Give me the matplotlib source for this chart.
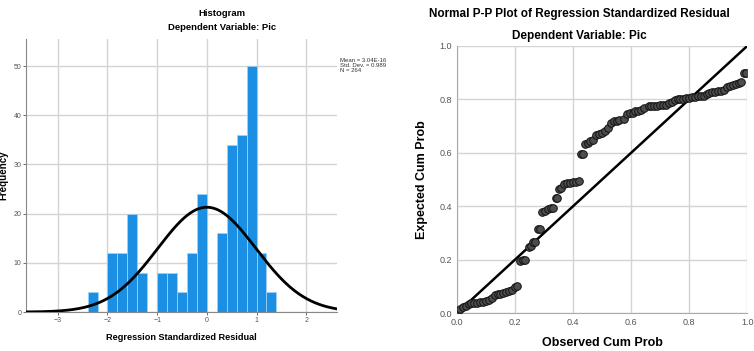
import numpy as np
import matplotlib
matplotlib.use("Agg")
import matplotlib.pyplot as plt

# histogram data (bin edges / counts)
bin_left = [-2.4, -2.0, -1.8, -1.6, -1.4, -1.0, -0.8, -0.6, -0.4, -0.2,
            0.2, 0.4, 0.6, 0.8, 1.0, 1.2]
counts = [4, 12, 12, 20, 8, 8, 8, 4, 12, 24, 16, 34, 36, 50, 12, 4]
bin_width = 0.2
res_mean = 3.04e-16
res_sd = 0.989
n_cases = 264

# P-P plot points (observed, expected)
obs = [0.004, 0.012, 0.02, 0.03, 0.04, 0.05, 0.06, 0.07, 0.08, 0.09, 0.10, 0.11,
       0.12, 0.13, 0.14, 0.15, 0.16, 0.17, 0.18, 0.19, 0.20, 0.207,
       0.218, 0.226, 0.235, 0.247, 0.255, 0.262, 0.27, 0.28, 0.287,
       0.293, 0.303, 0.313, 0.323, 0.33, 0.34, 0.345, 0.352, 0.358,
       0.37, 0.38, 0.39, 0.40, 0.41, 0.42,
       0.428, 0.434, 0.44, 0.45, 0.46, 0.47, 0.48, 0.49, 0.50, 0.51, 0.52,
       0.53, 0.54, 0.55, 0.56, 0.575, 0.585, 0.595, 0.605, 0.615, 0.625,
       0.635, 0.645, 0.66, 0.67, 0.68, 0.69, 0.70, 0.71, 0.72, 0.73, 0.74,
       0.75, 0.76, 0.77, 0.78, 0.79, 0.80, 0.81, 0.82, 0.83, 0.84, 0.85,
       0.86, 0.87, 0.88, 0.89, 0.90, 0.91, 0.92, 0.93, 0.94, 0.95, 0.96,
       0.97, 0.98, 0.99, 0.997]
expct = [0.008, 0.015, 0.022, 0.028, 0.033, 0.036, 0.037, 0.038, 0.04, 0.042, 0.047, 0.05,
         0.055, 0.068, 0.072, 0.073, 0.075, 0.08, 0.083, 0.088, 0.097, 0.10,
         0.195, 0.198, 0.20, 0.247, 0.25, 0.266, 0.268, 0.315, 0.316,
         0.378, 0.382, 0.388, 0.392, 0.392, 0.43, 0.432, 0.465, 0.468,
         0.485, 0.486, 0.487, 0.49, 0.492, 0.494,
         0.595, 0.595, 0.633, 0.638, 0.643, 0.648, 0.668, 0.672, 0.675, 0.683, 0.693,
         0.712, 0.72, 0.72, 0.722, 0.728, 0.745, 0.748, 0.75, 0.755, 0.758,
         0.76, 0.766, 0.775, 0.775, 0.776, 0.777, 0.778, 0.778, 0.78, 0.785, 0.79,
         0.797, 0.80, 0.802, 0.803, 0.805, 0.807, 0.808, 0.81, 0.812, 0.812, 0.813,
         0.82, 0.823, 0.826, 0.828, 0.83, 0.833, 0.835, 0.845, 0.85, 0.855, 0.858,
         0.86, 0.865, 0.898, 0.90]

plt.rcParams['font.family'] = ["Liberation Sans", "DejaVu Sans"]

grid_col = "#d4d4d4"
tick_col = "#555555"

fig = plt.figure(figsize=(7.54, 3.51), dpi=100)

# ---- histogram ----
ax1 = fig.add_axes([0.0345, 0.111, 0.4125, 0.778])
ax1.set_axisbelow(True)
ax1.grid(True, color=grid_col, linewidth=1.0)
ax1.bar(bin_left, counts, width=bin_width, align="edge", color="#1a8fe3",
        edgecolor="#9fd0f5", linewidth=0.6, zorder=2)

# normal curve from the stated mean / sd / N
xs = np.linspace(-3.64, 2.62, 300)
ys = n_cases * bin_width * np.exp(-0.5 * ((xs - res_mean) / res_sd) ** 2) / (res_sd * np.sqrt(2 * np.pi))
ax1.plot(xs, ys, color="black", linewidth=2.0, zorder=3)

ax1.set_xlim(-3.64, 2.62)
ax1.set_ylim(0, 55.5)
ax1.set_xticks([-3, -2, -1, 0, 1, 2])
ax1.set_yticks([0, 10, 20, 30, 40, 50])
ax1.tick_params(labelsize=5, colors=tick_col, length=2, width=0.6, pad=1.5)
for s in ["top", "right"]:
    ax1.spines[s].set_visible(False)
for s in ["left", "bottom"]:
    ax1.spines[s].set_color("#888888")
ax1.set_xlabel("Regression Standardized Residual", fontsize=6.6, fontweight="bold")
ax1.xaxis.set_label_coords(0.5, -0.077)
ax1.set_ylabel("Frequency", fontsize=7, fontweight="bold")
ax1.yaxis.set_label_coords(-0.056, 0.5)
fig.text(222 / 754, 1 - 13 / 351, "Histogram", ha="center", va="center", fontsize=6.8, fontweight="bold")
fig.text(222 / 754, 1 - 28 / 351, "Dependent Variable: Pic", ha="center", va="center",
         fontsize=6.8, fontweight="bold")
fig.text(340 / 754, 1 - 58 / 351, "Mean = 3.04E-16\nStd. Dev. = 0.989\nN = 264",
         ha="left", va="top", fontsize=4.3, color="#333333", linespacing=1.0)

# ---- P-P plot ----
ax2 = fig.add_axes([0.606, 0.108, 0.385, 0.761])
ax2.set_axisbelow(True)
ax2.grid(True, color=grid_col, linewidth=1.0)
ax2.plot([0, 1], [0, 1], color="black", linewidth=1.8, zorder=2)
ax2.scatter(obs, expct, s=30, facecolor="#4d4d4d", edgecolor="#111111", linewidth=0.7, zorder=3)
ax2.set_xlim(0, 1)
ax2.set_ylim(0, 1)
ax2.set_xticks(np.arange(0, 1.01, 0.2))
ax2.set_yticks(np.arange(0, 1.01, 0.2))
ax2.xaxis.set_major_formatter(plt.FormatStrFormatter("%.1f"))
ax2.yaxis.set_major_formatter(plt.FormatStrFormatter("%.1f"))
ax2.tick_params(labelsize=6.5, colors=tick_col, length=0)
for s in ["top", "right"]:
    ax2.spines[s].set_visible(False)
for s in ["left", "bottom"]:
    ax2.spines[s].set_color("#aaaaaa")
ax2.set_xlabel("Observed Cum Prob", fontsize=9, fontweight="bold")
ax2.xaxis.set_label_coords(0.5, -0.09)
ax2.set_ylabel("Expected Cum Prob", fontsize=9, fontweight="bold")
ax2.yaxis.set_label_coords(-0.10, 0.5)
fig.text(579 / 754, 1 - 14 / 351, "Normal P-P Plot of Regression Standardized Residual",
         ha="center", va="center", fontsize=8.5, fontweight="bold")
fig.text(579 / 754, 1 - 36 / 351, "Dependent Variable: Pic", ha="center", va="center",
         fontsize=8.5, fontweight="bold")

fig.savefig("out.png", dpi=100)
